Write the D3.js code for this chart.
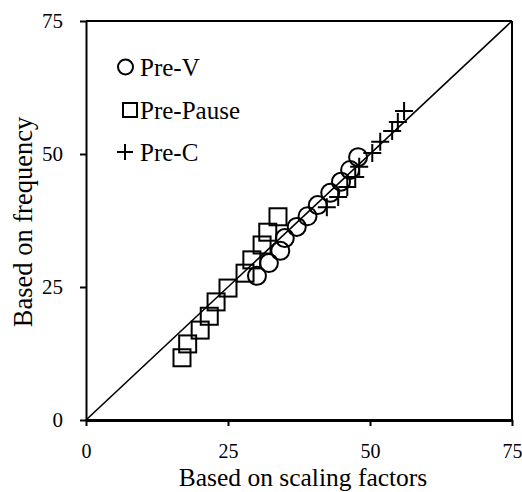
<!DOCTYPE html>
<html>
<head>
<meta charset="utf-8">
<script src="https://cdn.jsdelivr.net/npm/d3@7"></script>
<style>
  body { margin: 0; background: #fff; }
  text { font-family: "Liberation Serif", "DejaVu Serif", serif; fill: #000; }
</style>
</head>
<body>
<svg width="522" height="492"></svg>
<script>
// values: [scaling factors, frequency]
const preV = [
  [30.1, 27.1], [32.2, 29.5], [34.2, 31.8], [35.0, 34.2], [37.1, 36.3],
  [39.0, 38.3], [40.8, 40.4], [43.0, 42.7], [44.9, 44.8], [46.5, 47.0],
  [47.9, 49.4]
]
const prePause = [
  [16.9, 11.7], [17.9, 14.3], [20.1, 16.9], [21.7, 19.5], [22.9, 22.2],
  [25.0, 24.8], [28.0, 27.6], [29.2, 30.1], [31.0, 32.9], [32.0, 35.3],
  [33.8, 38.2]
]
const preC = [
  [42.4, 40.0], [44.4, 41.9], [46.0, 43.8], [47.4, 45.7], [48.1, 47.6],
  [50.4, 50.2], [51.8, 52.3], [53.9, 54.3], [54.9, 56.0], [56.0, 58.1]
]
const ticks = [0, 25, 50, 75]
const legendLabels = ['Pre-V', 'Pre-Pause', 'Pre-C']

const svg = d3.select('svg')
const width  = +svg.attr('width')
const height = +svg.attr('height')

const plotLeft = 86, plotRight = 512, plotTop = 21, plotBottom = 420

const x = d3.scaleLinear().domain([0, 75]).range([plotLeft, plotRight])
const y = d3.scaleLinear().domain([0, 75]).range([plotBottom, plotTop])

// frame: top and right border
svg.append('line')
  .attr('x1', plotLeft).attr('x2', plotRight)
  .attr('y1', plotTop).attr('y2', plotTop)
  .attr('stroke', 'black').attr('stroke-width', 2)
svg.append('line')
  .attr('x1', plotRight).attr('x2', plotRight)
  .attr('y1', plotTop).attr('y2', plotBottom)
  .attr('stroke', 'black').attr('stroke-width', 2)

const yAxis = svg.append('g')
  .attr('transform', `translate(${plotLeft},0)`)
  .call(d3.axisLeft(y).tickValues(ticks).tickSize(6).tickSizeOuter(0).tickPadding(17))
yAxis.select('.domain').attr('stroke-width', 2)
yAxis.selectAll('.tick line').attr('stroke-width', 2)
yAxis.selectAll('text').style('font-size', '21px')
  .style('font-family', '"Liberation Serif", serif')

const xAxis = svg.append('g')
  .attr('transform', `translate(0,${plotBottom})`)
  .call(d3.axisBottom(x).tickValues(ticks).tickSize(6).tickSizeOuter(0).tickPadding(18))
xAxis.select('.domain').attr('stroke-width', 3)
xAxis.selectAll('.tick line').attr('stroke-width', 2)
xAxis.selectAll('text').style('font-size', '20px')
  .style('font-family', '"Liberation Serif", serif')

// 1:1 line
svg.append('line')
  .attr('x1', x(0)).attr('y1', y(0))
  .attr('x2', x(75)).attr('y2', y(75))
  .attr('stroke', 'black').attr('stroke-width', 1.6)

const pts = svg.append('g')
  .attr('fill', 'none').attr('stroke', 'black').attr('stroke-width', 2)

pts.selectAll('rect.pause').data(prePause).enter().append('rect')
  .attr('x', d => x(d[0]) - 8.5)
  .attr('y', d => y(d[1]) - 8.5)
  .attr('width', 17).attr('height', 17)

pts.selectAll('circle.v').data(preV).enter().append('circle')
  .attr('cx', d => x(d[0]))
  .attr('cy', d => y(d[1]))
  .attr('r', 9)

pts.selectAll('path.c').data(preC).enter().append('path')
  .attr('d', d => {
    const cx = x(d[0]), cy = y(d[1])
    return `M${cx - 9},${cy}H${cx + 9}M${cx},${cy - 9}V${cy + 9}`
  })

// legend
const legend = svg.append('g')
const rows = [67, 110, 152]
legend.append('circle')
  .attr('cx', 125.5).attr('cy', rows[0]).attr('r', 7.5)
  .attr('fill', 'none').attr('stroke', 'black').attr('stroke-width', 2)
legend.append('rect')
  .attr('x', 123).attr('y', rows[1] - 7).attr('width', 14).attr('height', 14)
  .attr('fill', 'none').attr('stroke', 'black').attr('stroke-width', 2)
legend.append('path')
  .attr('d', `M117,${rows[2]}H133M125,${rows[2] - 8}V${rows[2] + 8}`)
  .attr('stroke', 'black').attr('stroke-width', 2)
legend.selectAll('text').data(legendLabels).enter().append('text')
  .attr('x', 140)
  .attr('y', (d, i) => rows[i] + 9)
  .style('font-size', '25px')
  .text(d => d)

// axis titles
svg.append('text')
  .attr('x', 303).attr('y', 486)
  .attr('text-anchor', 'middle')
  .style('font-size', '25.5px')
  .text('Based on scaling factors')

svg.append('text')
  .attr('transform', `translate(32,222) rotate(-90)`)
  .attr('text-anchor', 'middle')
  .style('font-size', '26.5px')
  .text('Based on frequency')
</script>
</body>
</html>
